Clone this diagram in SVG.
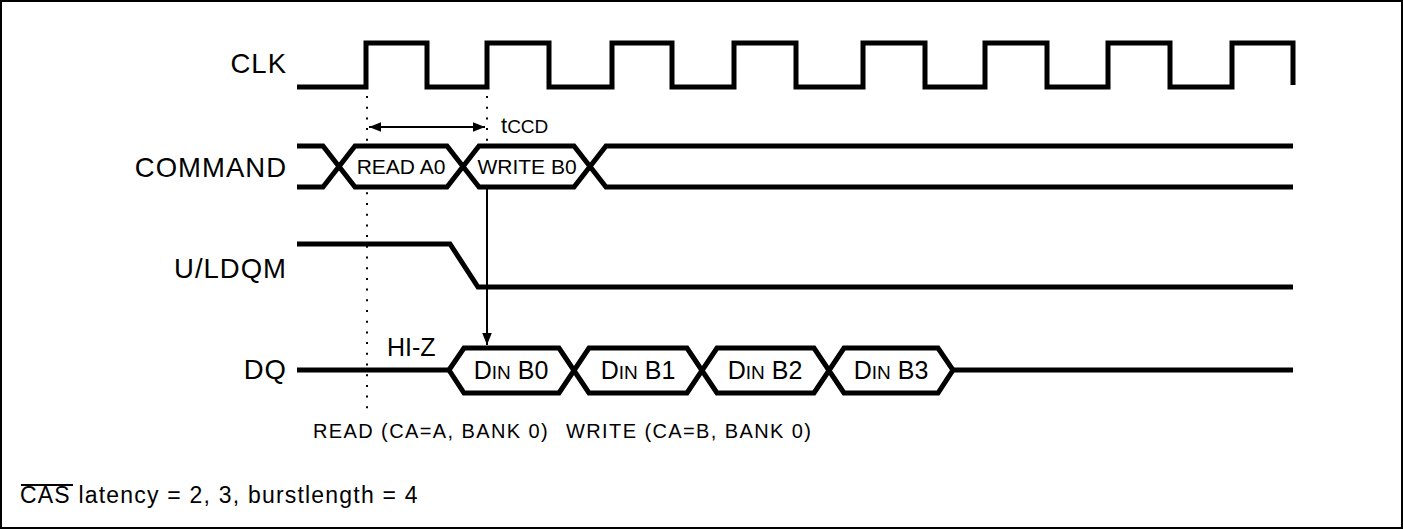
<svg xmlns="http://www.w3.org/2000/svg" width="1403" height="529" viewBox="0 0 1403 529">
<style>
.sig{fill:none;stroke:#000;stroke-width:5;stroke-linejoin:miter;stroke-linecap:butt}
.bg{fill:#fff;stroke:none}
.lbl{font-family:"Liberation Sans",Arial,sans-serif;font-size:27.5px;letter-spacing:1px;fill:#000}
.in{font-family:"Liberation Sans",Arial,sans-serif;font-size:21px;fill:#000}
.din{font-family:"Liberation Sans",Arial,sans-serif;font-size:25px;fill:#000}
.din tspan{font-size:19px}
.sm{font-family:"Liberation Sans",Arial,sans-serif;font-size:20px;letter-spacing:1.4px;fill:#000}
.dot{fill:none;stroke:#000;stroke-width:2;stroke-dasharray:2 8.7}
.thin{fill:none;stroke:#000;stroke-width:2}
</style>
<defs>
<marker id="ah2" viewBox="0 0 10 10" refX="10" refY="5" markerWidth="16" markerHeight="12" markerUnits="userSpaceOnUse" orient="auto-start-reverse"><path d="M0,1 L10,5 L0,9 z" fill="#000"/></marker>
</defs>
<rect x="1" y="1" width="1401" height="527" fill="#fff" stroke="#000" stroke-width="2"/>

<g id="guides">
<path class="dot" d="M367,96 V416"/>
<path class="dot" d="M487,96 V150"/>
</g>

<g id="clk">
<text class="lbl" x="287" y="73" text-anchor="end">CLK</text>
<path class="sig" d="M297,87 H366 V43 H427 V87 H487 V43 H549 V87 H612 V43 H672 V87 H734 V43 H796 V87 H863 V43 H925 V87 H985 V43 H1047 V87 H1108 V43 H1170 V87 H1232 V43 H1293 V85"/>
</g>

<g id="command">
<text class="lbl" x="287" y="177" text-anchor="end">COMMAND</text>
<path class="bg" d="M339,166.5 L355,146 H447 L463,166.5 L479,146 H574 L590,166.5 L574,187 H479 L463,166.5 L447,187 H355 Z"/>
<path class="sig" d="M297,146 H323 L355,187 H447 L479,146 H574 L606,187 H1293"/>
<path class="sig" d="M297,187 H323 L355,146 H447 L479,187 H574 L606,146 H1293"/>
<text class="in" x="401" y="174" text-anchor="middle">READ A0</text>
<text class="in" x="527" y="174" text-anchor="middle">WRITE B0</text>
</g>

<g id="ldqm">
<text class="lbl" x="287" y="278" text-anchor="end">U/LDQM</text>
<path class="sig" d="M297,244 H450 L478,287 H1293"/>
</g>

<g id="dq">
<text class="lbl" x="287" y="379" text-anchor="end">DQ</text>
<text class="in" x="387" y="356" style="font-size:25px">HI-Z</text>
<path class="sig" d="M297,370 H449"/>
<path class="sig" d="M449,370 L464,348 H559 L589,393 H687 L717,348 H814 L844,393 H938 L953,370 L938,348 H844 L814,393 H717 L687,348 H589 L559,393 H464 Z"/>
<path class="sig" d="M953,370 H1293"/>
<text class="din" x="511" y="379" text-anchor="middle">D<tspan>IN</tspan> B0</text>
<text class="din" x="638" y="379" text-anchor="middle">D<tspan>IN</tspan> B1</text>
<text class="din" x="765" y="379" text-anchor="middle">D<tspan>IN</tspan> B2</text>
<text class="din" x="891" y="379" text-anchor="middle">D<tspan>IN</tspan> B3</text>
</g>

<g id="connectors">
<path class="thin" d="M369,127 H485" marker-start="url(#ah2)" marker-end="url(#ah2)"/>
<path class="thin" d="M487,188 V345" marker-end="url(#ah2)"/>
</g>

<g id="labels">
<text class="in" x="501" y="133" style="font-size:22px">t<tspan style="font-size:19px">CCD</tspan></text>
<text class="sm" x="313" y="438">READ (CA=A, BANK 0)</text>
<text class="sm" x="566" y="438">WRITE (CA=B, BANK 0)</text>
<text class="in" x="20" y="503" style="font-size:23px;letter-spacing:1.2px">CAS latency = 2, 3, burstlength = 4</text>
<path class="thin" d="M21,485 H73"/>
</g>
</svg>
